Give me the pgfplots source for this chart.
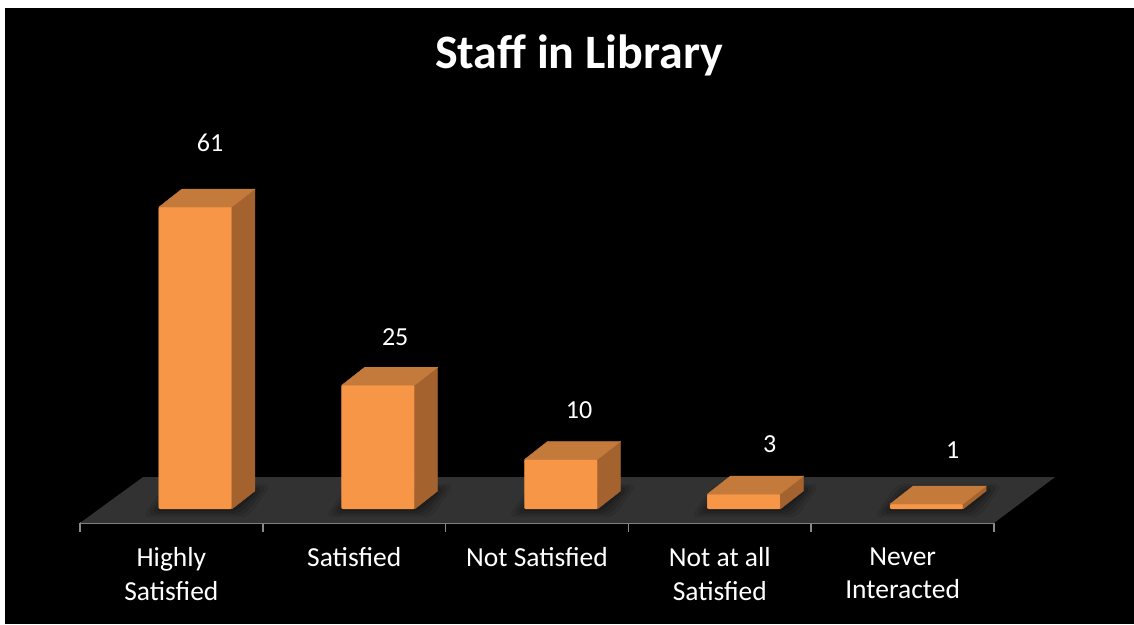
\documentclass[border=0pt]{standalone}
\usepackage{pgfplots}
\pgfplotsset{compat=1.18}
\usepackage{pgfplotstable}
\usepackage{fontspec}
\setmainfont{Carlito}
\definecolor{barfront}{HTML}{F79646}
\definecolor{barside}{HTML}{A3622E}
\definecolor{bartop}{HTML}{C47A3A}
\definecolor{floorc}{HTML}{323232}
\definecolor{axisc}{HTML}{898989}
\pgfplotstableread{
x y dx dy
0 61 38.6 64
1 25 41 48
2 10 42 49.5
3 3 50 50
4 1 50 54
}\datatable
\begin{document}
\begin{tikzpicture}
\useasboundingbox (0,0) rectangle (1134pt,624pt);
\fill[white] (0,0) rectangle (1134pt,624pt);
\fill[black] (5pt,0) rectangle (1134pt,616pt);
\node[text=white, font=\fontsize{48}{56}\selectfont\bfseries, anchor=base] at (579pt,555pt) {Staff in Library};
\begin{axis}[
  at={(80pt,101pt)}, anchor=south west,
  x=182.8pt, y=4.95pt,
  xmin=-0.5, xmax=4.5, ymin=-2.83, ymax=100,
  axis x line*=bottom, axis y line=none,
  clip=false,
  /pgf/number format/assume math mode=true,
  x axis line style={draw=axisc, line width=1.5pt, -},
  xtick={0,...,4},
  xticklabels={{Highly\\Satisfied},{Satisfied},{Not Satisfied},{Not at all\\Satisfied},{Never\\Interacted}},
  minor xtick={-0.5,0.5,...,4.5},
  major tick length=0pt, minor tick length=9pt,
  xtick align=outside,
  minor tick style={draw=axisc, line width=1.5pt},
  xticklabel style={align=center, text=white, font=\fontsize{27.5}{33.5}\selectfont, anchor=north, yshift=-21pt},
]
% floor
\addplot[fill=floorc, draw=none, forget plot] coordinates {(-0.5,-2.83) (4.5,-2.83) (4.834,6.46) (-0.155,6.46)} -- cycle;
% front faces of the bars
\addplot[ybar, bar width=73pt, bar shift=24pt, fill=barfront, draw=none, forget plot]
  table[x=x, y=y] {\datatable};
% 3-D box for each bar: floor shadow, front, side and top faces
\addplot[scatter, only marks, mark=*, mark size=0pt, mark options={draw=none, fill=none}, forget plot,
  visualization depends on={rawy \as \rawy},
  scatter/@pre marker code/.code={%
    \pgfmathsetmacro\h{\rawy*4.95}%
    \foreach \e/\op in {16/0.08,12/0.10,8/0.12,4/0.15}{%
      \pgfmathsetmacro\yb{-\h-0.5*\e}%
      \pgfmathsetmacro\yt{18-\h+0.4*\e}%
      \pgfmathsetmacro\xl{-12.5-\e}%
      \pgfmathsetmacro\xr{83.5+\e}%
      \pgfmathsetmacro\xa{60.5+\e}%
      \pgfmathsetmacro\xb{10.5-\e}%
      \fill[black, opacity=\op, rounded corners=7pt] (\xl pt,\yb pt) -- (\xa pt,\yb pt) -- (\xr pt,\yt pt) -- (\xb pt,\yt pt) -- cycle;
    }%
    \pgfmathsetmacro\hb{18-\h}%
    \fill[barfront, rounded corners=1.5pt] (-12.5pt,-\h pt) rectangle (60.5pt,0pt);
    \fill[barside] (60.5pt,0pt) -- (83.5pt,18pt) -- (83.5pt,\hb pt) -- (60.5pt,-\h pt) -- cycle;
    \fill[bartop] (-12.5pt,0pt) -- (10.5pt,18pt) -- (83.5pt,18pt) -- (60.5pt,0pt) -- cycle;
  },
  scatter/@post marker code/.code={},
] table[x=x, y=y] {\datatable};
% value labels
\addplot[draw=none, mark=none, forget plot,
  visualization depends on={\thisrow{dx} \as \ldx},
  visualization depends on={\thisrow{dy} \as \ldy},
  nodes near coords,
  nodes near coords style={text=white, font=\fontsize{26}{31}\selectfont, anchor=center, xshift=\ldx pt, yshift=\ldy pt},
] table[x=x, y=y] {\datatable};
\end{axis}
\end{tikzpicture}
\end{document}
